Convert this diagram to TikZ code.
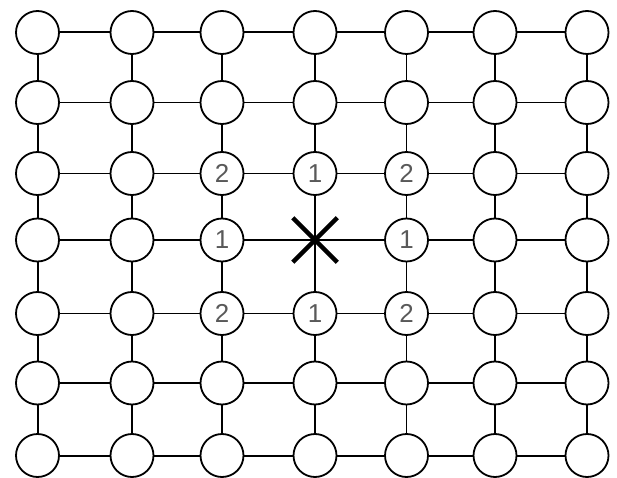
\documentclass[tikz,border=0pt]{standalone}
\usepackage{fontspec}
\setsansfont{Liberation Sans}
\usetikzlibrary{shapes.misc}

\begin{document}
\begin{tikzpicture}[x=1bp, y=-1bp,
  site/.style={draw, circle, line width=1.8bp, minimum size=43bp, inner sep=0pt,
    fill=white, text=black!65, font=\sffamily\fontsize{26}{26}\selectfont},
  bond/.style={line width=1.1bp},
  rim/.style={line width=2bp},
  hole/.style={draw, cross out, line width=4.5bp, minimum size=40bp, inner sep=0pt},
]
  \useasboundingbox (0,0) rectangle (617,478);

  % lattice sites, numbered around the removed one
  \foreach \i/\x in {1/37.5, 2/132, 3/222, 4/315, 5/406.5, 6/495, 7/587} {
    \foreach \j/\y in {1/32.5, 2/102.5, 3/173.5, 4/240, 5/313.5, 6/383, 7/455.5} {
      \pgfmathtruncatemacro\cheb{max(abs(\i-4),abs(\j-4))}
      \pgfmathtruncatemacro\man{abs(\i-4)+abs(\j-4)}
      \ifnum\cheb=0
        \coordinate (n\i\j) at (\x, \y);
      \else\ifnum\cheb=1
        \node[site] (n\i\j) at (\x, \y) {\man};
      \else
        \node[site] (n\i\j) at (\x, \y) {};
      \fi\fi
    }
  }
  % bonds, thick on the rim
  \foreach \j in {1,...,7} {
    \foreach \i in {1,...,6} {
      \pgfmathtruncatemacro\k{\i+1}
      \ifnum\j=1 \def\bst{rim}\else\ifnum\j=7 \def\bst{rim}\else\def\bst{bond}\fi\fi
      \draw[\bst] (n\i\j) -- (n\k\j);
    }
  }
  \foreach \i in {1,...,7} {
    \foreach \j in {1,...,6} {
      \pgfmathtruncatemacro\k{\j+1}
      \ifnum\i=1 \def\bst{rim}\else\ifnum\i=7 \def\bst{rim}\else\def\bst{bond}\fi\fi
      \draw[\bst] (n\i\j) -- (n\i\k);
    }
  }
  \node[hole] (vac) at (n44) {};
\end{tikzpicture}
\end{document}
